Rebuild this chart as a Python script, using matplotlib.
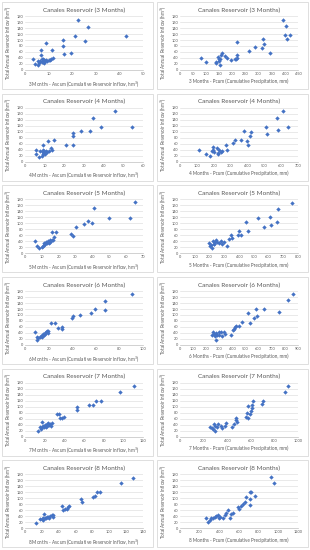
import matplotlib
matplotlib.use("Agg")
import matplotlib.pyplot as plt
from matplotlib.patches import Rectangle

plt.rcParams['font.family'] = ['Lato', 'DejaVu Sans']

# --- axis settings per lead time ---
months = [3, 4, 5, 6, 7, 8]
asc_xmax = [50, 60, 70, 100, 120, 140]
asc_xstep = [10, 10, 10, 20, 20, 20]
pcum_xmax = [450, 700, 800, 900, 1000, 1200]
pcum_xstep = [50, 100, 100, 100, 200, 200]
y_ticks = list(range(0, 181, 20))

# --- Ascum (cumulative reservoir inflow, hm3) vs annual inflow ---
asc3_x = [22.6, 26.7, 42.9, 21, 25.3, 15.9, 15.9, 8.9, 11.4, 16.6, 19.7, 6.7, 6.7, 3.6, 4.1, 5.4,
          5.3, 7, 7.5, 8, 8.5, 9, 10, 7.8, 6.5, 11, 12, 10.7, 8, 6, 7.2, 9.5]
asc3_y = [165, 144, 112, 114, 97, 100, 81, 90, 67, 52, 56, 65, 51, 36, 20, 31,
          16, 25, 28, 32, 30, 33, 32, 38, 30, 35, 40, 34, 22, 24, 35, 30]

asc4_x = [45.8, 34.5, 38.6, 54.4, 33.3, 28.5, 24.4, 24.4, 24.5, 21.1, 14.9, 11.8, 13.4, 13.7, 9.4,
          5.5, 5.7, 7.7, 6.9, 8.6, 9.1, 9.4, 9.9, 10.3, 10.8, 11.1, 8.9, 12, 9.8]
asc4_y = [169, 147, 116, 116, 101, 103, 94, 84, 57, 56, 71, 69, 45, 40, 56,
          40, 26, 36, 16, 20, 31, 40, 29, 25, 34, 31, 26, 35, 37]

asc5_x = [65, 41.2, 50, 62, 37.6, 39.8, 34.8, 30.4, 27, 28.2, 18.2, 16, 17, 6.2, 7.4,
          8.4, 10, 11, 12, 13, 14, 15, 16, 14.6, 12.6, 11.4, 13.4, 16.6, 10.6]
asc5_y = [170, 150, 117, 117, 108, 102, 97, 88, 63, 58, 72, 70, 56, 40, 26,
          17, 22, 28, 31, 34, 36, 39, 43, 46, 37, 34, 40, 45, 25]

asc6_x = [91, 67.7, 67.7, 59.2, 55.8, 46.5, 41, 40, 31.4, 31, 28, 21.8, 25, 18.4, 19.3,
          17, 15.9, 14.2, 12.7, 11.3, 9.9, 8.2, 9.9, 15, 16.7, 17.6, 19.8, 13.3, 14.4]
asc6_y = [170, 148, 117, 119, 107, 101, 97, 89, 61, 54, 56, 74, 72, 47, 40,
          40, 34, 30, 28, 24, 18, 43, 28, 36, 37, 45, 48, 31, 27]

asc7_x = [110.5, 97, 77, 72.4, 68.7, 64.6, 52.7, 52.7, 40, 37.8, 35.7, 34.4, 32.3, 27.2, 25.5,
          17, 12.9, 15.3, 17.3, 18.7, 20.4, 22, 23.8, 19.7, 21.4, 24.8, 26.2, 16, 22.8]
asc7_y = [168, 150, 120, 120, 106, 105, 99, 90, 65, 61, 61, 76, 77, 45, 43,
          48, 18, 31, 33, 37, 39, 43, 46, 31, 33, 39, 35, 27, 35]

asc8_x = [128, 114, 88.5, 86, 82.5, 80.8, 65.9, 67.9, 52.4, 44.4, 51.6, 50, 47, 45.6, 23,
          12.7, 17.9, 19.8, 21.8, 23.8, 25.8, 27.8, 29.8, 31.7, 33.7, 33.7, 24.6, 28.6, 21]
asc8_y = [168, 150, 122, 120, 107, 104, 98, 89, 76, 76, 70, 63, 64, 61, 47,
          18, 30, 31, 33, 35, 37, 39, 41, 43, 45, 39, 33, 35, 28]

# --- Pcum (cumulative precipitation, mm) vs annual inflow ---
pc3_x = [391, 405, 399, 418, 409, 315, 322, 287, 313, 345, 265, 217, 162, 172, 181,
         218, 208, 219, 215, 195, 81, 99, 137, 137, 146, 147, 153, 154, 155, 147]
pc3_y = [166, 145, 117, 116, 103, 103, 87, 76, 73, 58, 62, 94, 58, 47, 39,
         50, 37, 41, 35, 32, 40, 26, 26, 23, 43, 31, 38, 16, 50, 37]

pc4_x = [609, 574, 638, 583, 512, 514, 421, 380, 417, 399, 403, 364, 324, 314, 273,
         277, 217, 242, 223, 196, 198, 190, 180, 155, 110, 227, 248, 202, 231]
pc4_y = [168, 147, 116, 104, 116, 93, 100, 102, 86, 70, 57, 72, 72, 61, 54,
         40, 44, 31, 26, 39, 48, 34, 18, 26, 40, 28, 35, 31, 38]

pc5_x = [758, 664, 607, 527, 656, 614, 569, 445, 459, 400, 414, 395, 346, 351, 334,
         320, 299, 287, 264, 254, 238, 231, 226, 242, 212, 202, 219, 195, 228, 275]
pc5_y = [169, 149, 120, 119, 105, 94, 88, 103, 73, 75, 60, 60, 62, 50, 47,
         24, 39, 31, 35, 39, 37, 30, 40, 43, 28, 24, 18, 35, 31, 40]

pc6_x = [860, 825, 757, 640, 582, 516, 587, 561, 534, 476, 450, 423, 426, 413, 402,
         389, 347, 336, 315, 296, 278, 286, 259, 270, 275, 243, 254, 296, 323]
pc6_y = [171, 151, 110, 121, 121, 107, 98, 90, 75, 76, 62, 61, 65, 53, 50,
         35, 37, 44, 42, 45, 41, 35, 36, 29, 18, 32, 44, 35, 31]

pc7_x = [912, 894, 700, 694, 618, 612, 609, 600, 579, 591, 571, 574, 559, 476, 471,
         456, 482, 438, 382, 388, 359, 344, 324, 300, 288, 256, 279, 300, 270, 315]
pc7_y = [168, 150, 120, 108, 120, 106, 95, 87, 103, 74, 79, 61, 66, 61, 55,
         43, 49, 31, 37, 45, 29, 35, 41, 37, 43, 33, 27, 18, 30, 31]

pc8_x = [926, 961, 761, 726, 716, 667, 709, 709, 656, 639, 621, 604, 586, 540, 516,
         505, 484, 463, 456, 435, 411, 386, 365, 358, 340, 316, 305, 288, 263, 393]
pc8_y = [170, 150, 107, 120, 121, 106, 97, 77, 88, 80, 73, 65, 70, 52, 49,
         36, 62, 51, 43, 35, 39, 45, 42, 38, 33, 35, 28, 21, 35, 35]

asc_x = [asc3_x, asc4_x, asc5_x, asc6_x, asc7_x, asc8_x]
asc_y = [asc3_y, asc4_y, asc5_y, asc6_y, asc7_y, asc8_y]
pc_x = [pc3_x, pc4_x, pc5_x, pc6_x, pc7_x, pc8_x]
pc_y = [pc3_y, pc4_y, pc5_y, pc6_y, pc7_y, pc8_y]

W, H = 310, 550
ROW = H / 6
COL = W / 2
TXT = '#595959'

fig = plt.figure(figsize=(W / 100, H / 100), dpi=100)


def panel(col, row, xs, ys, xmax, xstep, title, xlabel):
    x0 = col * COL
    y0 = row * ROW
    # chart border
    fig.patches.append(Rectangle(((x0 + 2) / W, 1 - (y0 + 89) / H), 151 / W, 87 / H,
                                 transform=fig.transFigure, fill=False,
                                 ec='#d9d9d9', lw=0.6))
    ax = fig.add_axes([(x0 + 25) / W, 1 - (y0 + 70) / H, 118 / W, 54 / H])
    ax.scatter(xs, ys, s=5, marker='D', color='#4472c4', lw=0, zorder=3)
    ax.set_xlim(0, xmax)
    ax.set_ylim(0, 180)
    ax.set_xticks(range(0, xmax + 1, xstep))
    ax.set_yticks(y_ticks)
    ax.grid(axis='y', color='#d9d9d9', lw=0.4)
    ax.set_axisbelow(True)
    for s in ['top', 'right', 'left']:
        ax.spines[s].set_visible(False)
    ax.spines['bottom'].set_color('#bfbfbf')
    ax.spines['bottom'].set_linewidth(0.5)
    ax.tick_params(length=0, labelsize=2.8, labelcolor=TXT, pad=1.5)
    ax.set_title(title, fontsize=4.6, color=TXT, pad=3)
    ax.set_xlabel(xlabel, fontsize=3.3, color=TXT, labelpad=2)
    ax.set_ylabel('Total Annual Reservoir Inflow (hm$^3$)', fontsize=3.3,
                  color=TXT, labelpad=2)


for i, m in enumerate(months):
    title = f'Canales Reservoir ({m} Months)'
    panel(0, i, asc_x[i], asc_y[i], asc_xmax[i], asc_xstep[i], title,
          f'{m} Months - Ascum (Cumulative Reservoir Inflow, hm$^3$)')
    panel(1, i, pc_x[i], pc_y[i], pcum_xmax[i], pcum_xstep[i], title,
          f'{m} Months - Pcum (Cumulative Precipitation, mm)')

fig.savefig('out.png', dpi=100)
